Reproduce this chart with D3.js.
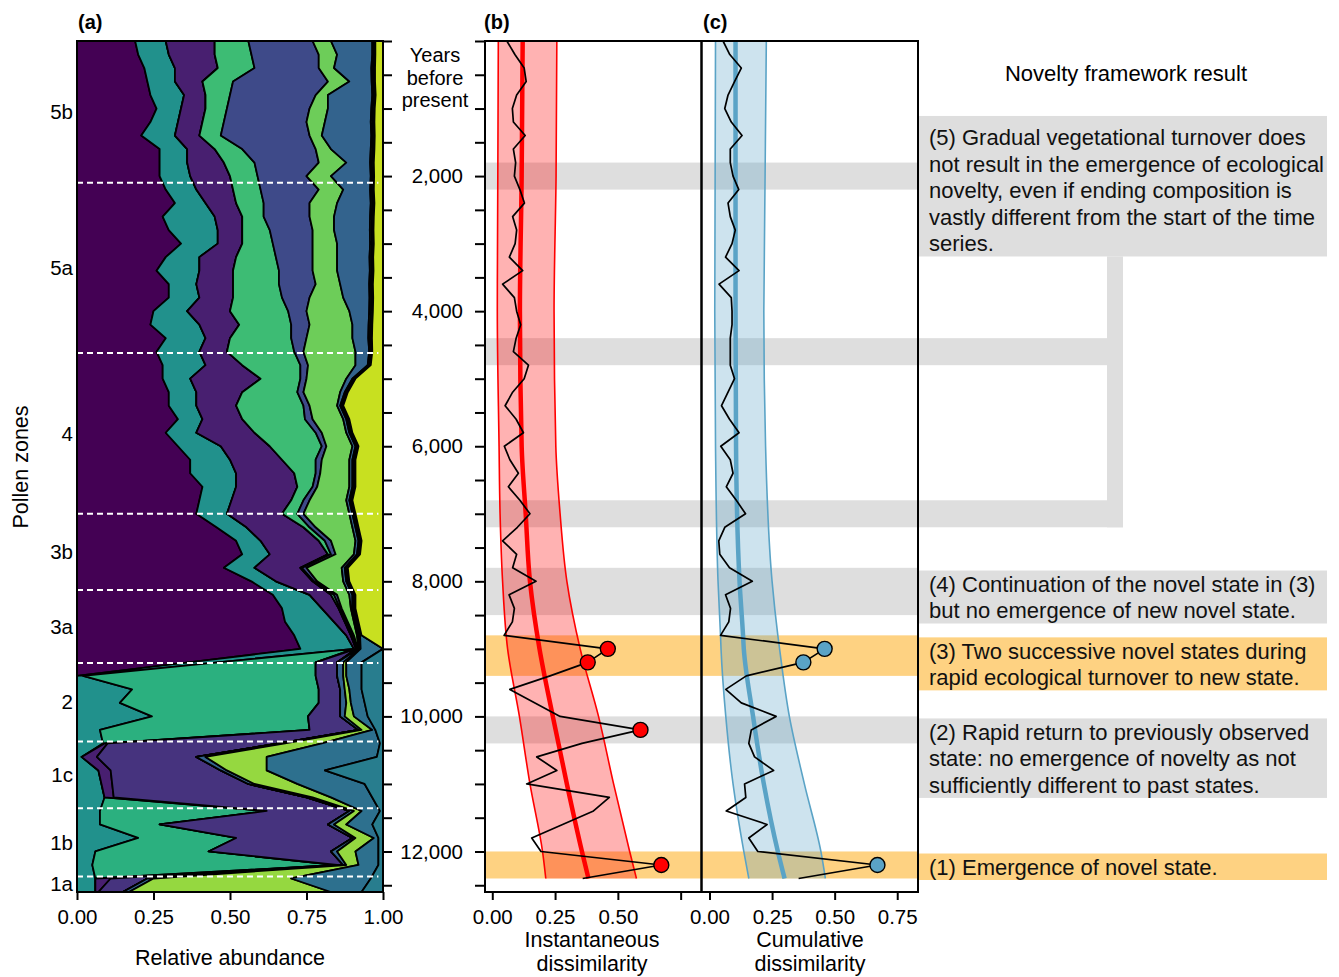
<!DOCTYPE html>
<html>
<head>
<meta charset="utf-8">
<script src="https://cdn.jsdelivr.net/npm/d3@7"></script>
<style>
body { margin: 0; background: #fff; }
text { font-family: "Liberation Sans", Arial, sans-serif; fill: #000; }
</style>
</head>
<body>
<div id="chart"></div>
<script>
// sample ages (years before present)
var sampleYears = [0, 200, 400, 600, 800, 1000, 1200, 1400, 1600, 1800, 2000, 2200, 2400, 2600, 2800, 3000,
  3200, 3400, 3600, 3800, 4000, 4200, 4400, 4600, 4800, 5000, 5200, 5400, 5600, 5800, 6000, 6200,
  6400, 6600, 6800, 7000, 7200, 7400, 7600, 7800, 8000, 8200, 8400, 8600, 8800, 9000, 9200, 9400,
  9600, 9800, 10000, 10200, 10400, 10600, 10800, 11000, 11200, 11400, 11600, 11800, 12000, 12200, 12400, 12600];

// relative abundance of each taxon, stacked left to right
var taxon1 = [.19,.20,.22,.23,.24,.26,.24,.21,.27,.27,.27,.29,.32,.28,.30,.34,.29,.26,.30,.30,.25,.24,.29,.26,
  .28,.28,.30,.30,.33,.29,.33,.37,.37,.41,.40,.39,.456,.52,.54,.48,.57,.64,.67,.68,.71,.73,
  .365,0,0,0,0,0,0,0,0,0,0,0,0,0,0,0,0,0];
var taxon2 = [.10,.10,.10,.09,.11,.08,.09,.11,.09,.09,.10,.10,.10,.17,.16,.12,.11,.14,.09,.10,.11,.16,.13,.14,
  .14,.09,.09,.09,.08,.10,.14,.13,.15,.11,.105,.10,.098,.08,.09,.10,.08,.12,.13,.16,.17,.175,
  .095,.02,.18,.14,.245,.075,.085,.015,.07,.08,.09,.075,.075,.20,.06,.05,.06,.06];
var taxon3 = [0,0,0,0,0,0,0,0,0,0,0,0,0,0,0,0,0,0,0,0,0,0,0,0,
  0,0,0,0,0,0,0,0,0,0,0,0,0,0,0,0,0,0,0,0,0,0,
  .32,.76,.61,.65,.51,.685,.005,0,0,0,0,.545,.195,.32,.37,.80,0,0];
var taxon4 = [.16,.15,.14,.09,.07,.08,.08,.08,.09,.12,.13,.12,.10,.09,.08,.08,.12,.11,.12,.11,.14,.13,.08,.09,
  .12,.23,.15,.13,.13,.19,.16,.17,.19,.20,.195,.18,.186,.19,.19,.15,.12,.07,.055,.035,.015,.007,
  0,0,0,0,0,0,.01,.05,.04,.035,.03,0,0,0,0,0,.05,.01];
var taxon5 = [0,0,0,0,0,0,0,0,0,0,0,0,0,0,0,0,0,0,0,0,0,0,0,0,
  0,0,0,0,0,0,0,0,0,0,0,0,0,0,0,0,0,0,0,0,0,0,
  .07,.07,.07,.07,.105,.16,.56,.325,.36,.445,.63,.27,.55,.38,.40,.02,.12,.08];
var taxon6 = [.11,.12,.12,.10,.08,.07,.07,.07,.09,.10,.09,.09,.09,.07,.09,.10,.13,.15,.15,.16,.19,.17,.20,.22,
  .19,.13,.18,.22,.205,.20,.17,.11,.07,.05,.04,.05,.02,.02,.01,.005,.005,.01,.005,.005,.005,.003,
  0,0,0,0,0,0,0,0,0,0,0,0,0,0,0,0,0,0];
var taxon7 = [.21,.22,.21,.31,.28,.27,.27,.29,.24,.21,.16,.19,.15,.15,.14,.13,.12,.11,.12,.09,.06,.06,.05,.03,
  .025,.02,.02,.02,.025,.02,.015,.02,.015,.015,.02,.02,.02,.02,.015,.015,.01,.01,.005,.005,.005,.003,
  0,0,0,0,0,0,0,0,0,0,0,0,0,0,0,0,0,0];
var taxon8 = [.06,.06,.05,.07,.04,.06,.06,.04,.05,.09,.08,.08,.09,.08,.07,.08,.08,.08,.08,.11,.14,.14,.15,.17,
  .155,.13,.12,.09,.10,.08,.085,.09,.095,.105,.12,.15,.12,.08,.06,.115,.085,.04,.03,.02,.01,.003,
  0,0,0,0,0,0,0,0,0,0,0,0,0,0,0,0,0,0];
var taxon9 = [.135,.115,.122,.073,.145,.142,.15,.162,.13,.078,.13,.088,.11,.118,.117,.108,.106,.107,.095,.086,.065,.053,.052,.045,
  .04,.02,.015,.01,.01,.01,.01,.01,.01,.01,.01,.01,.01,.01,.01,.01,.01,.01,.005,.005,.005,.003,
  .02,.02,.015,.02,.015,.01,.02,.03,.02,.02,.02,.015,.02,.01,.02,.01,.02,.02];
var taxon10 = [.005,.005,.006,.005,.005,.005,.006,.005,.006,.006,.005,.006,.006,.006,.006,.006,.006,.006,.006,.006,.006,.006,.006,.005,
  .005,.005,.005,.005,.005,.005,.005,.005,.005,.005,.005,.005,.005,.005,.005,.005,.005,.005,.005,.005,.005,.003,
  .01,.01,.015,.015,.03,.035,.12,.20,.13,.14,.06,.025,.04,.06,.06,.04,.45,.66];
var taxon11 = [.005,.005,.006,.006,.006,.006,.006,.006,.006,.006,.006,.006,.006,.006,.006,.006,.006,.006,.006,.006,.006,.006,.006,.005,
  .005,.005,.005,.005,.005,.005,.005,.005,.005,.005,.005,.005,.005,.005,.005,.005,.005,.005,.005,.005,.005,.073,
  .05,.05,.04,.045,.045,.01,.19,.36,.19,.22,.135,.06,.085,.015,.075,.065,.26,.10];
var taxon12 = [0,0,0,0,0,0,0,0,0,0,0,0,0,0,0,0,0,0,0,0,0,0,0,0,
  0,0,0,0,0,0,0,0,0,0,0,0,0,0,0,0,0,0,0,0,0,0,
  .07,.07,.07,.06,.05,.025,.01,.02,.19,.06,.035,.01,.035,.015,.015,.015,.04,.07];
var taxon13 = [.025,.025,.026,.026,.024,.027,.028,.027,.028,.03,.029,.03,.028,.03,.031,.03,.032,.031,.033,.032,.033,.035,.036,.035,
  .04,.09,.115,.13,.11,.10,.08,.09,.09,.09,.10,.09,.08,.07,.075,.115,.11,.09,.09,.08,.07,0,
  0,0,0,0,0,0,0,0,0,0,0,0,0,0,0,0,0,0];

// pollen zones
var zoneNames = ['5b', '5a', '4', '3b', '3a', '2', '1c', '1b', '1a'];
var zoneBreaks = [2100, 4620, 7000, 8130, 9210, 10370, 11360, 12370];

// dissimilarity (all samples except the oldest)
var instDissim = [.058,.09,.127,.135,.097,.08,.084,.131,.084,.093,.088,.11,.128,.081,.097,.091,.068,.121,.041,.088,.097,.113,
  .095,.084,.144,.127,.081,.051,.095,.124,.048,.07,.104,.064,.11,.15,.10,.041,.097,.081,.174,.067,.088,.08,.047,
  .46,.38,.23,.07,.17,.27,.59,.357,.177,.257,.137,.466,.403,.28,.157,.194,.673,.36];
var cumDissim = [.054,.081,.127,.10,.074,.061,.087,.13,.083,.083,.094,.117,.074,.083,.103,.09,.064,.118,.038,.087,.09,.09,
  .083,.083,.083,.10,.074,.048,.08,.118,.045,.083,.094,.067,.107,.144,.061,.037,.041,.08,.171,.064,.084,.077,.044,
  .46,.375,.147,.065,.127,.266,.167,.157,.18,.256,.14,.145,.067,.23,.157,.193,.671,.356];
var novelInst = [9000, 9200, 10200, 12200];
var novelCum = [9000, 9200, 12200];

// expected dissimilarity fits
var fitYearsInst = [0, 2000, 4000, 6000, 7000, 8000, 9000, 10000, 11000, 12000, 12400];
var fitInst = [.121, .117, .11, .117, .133, .15, .188, .241, .297, .357, .383];
var fitInstLo = [.024, .022, .02, .027, .031, .041, .061, .108, .15, .20, .213];
var fitInstHi = [.257, .254, .246, .253, .27, .297, .35, .423, .483, .547, .574];
var fitYearsCum = [0, 4000, 6000, 8000, 8800, 9000, 10000, 11000, 12000, 12400];
var fitCum = [.104, .104, .106, .12, .134, .137, .174, .217, .273, .30];
var fitCumLo = [.024, .021, .024, .034, .044, .046, .065, .094, .137, .157];
var fitCumHi = [.227, .217, .224, .25, .273, .28, .319, .379, .445, .463];

// highlighted periods
var bandFrom = [1800, 4400, 6800, 7800, 8800, 10000, 12000];
var bandTo = [2200, 4800, 7200, 8500, 9400, 10400, 12400];
var bandNovel = [false, false, false, false, true, false, true];

// framework notes
var noteLines = [
  ['(5) Gradual vegetational turnover does', 'not result in the emergence of ecological',
   'novelty, even if ending composition is', 'vastly different from the start of the time', 'series.'],
  ['(4) Continuation of the novel state in (3)', 'but no emergence of new novel state.'],
  ['(3) Two successive novel states during', 'rapid ecological turnover to new state.'],
  ['(2) Rapid return to previously observed', 'state: no emergence of novelty as not', 'sufficiently different to past states.'],
  ['(1) Emergence of novel state.']
];
var noteTop = [1110, 7840, 8830, 10030, 12030];
var noteNovel = [false, false, true, false, true];

var width = 1339;
var height = 977;
var grey = '#dedede';
var orange = '#fed282';
var red = '#ff0000';
var blue = '#5aa3c6';

var svg = d3.select('#chart')
            .append('svg')
            .attr('width', width)
            .attr('height', height);

var y = d3.scaleLinear().domain([0, 12600]).range([41, 892]);
var xA = d3.scaleLinear().domain([0, 1]).range([77, 383]);
var xB = d3.scaleLinear().domain([-0.029, 0.833]).range([485, 701.5]);
var xC = d3.scaleLinear().domain([-0.032, 0.833]).range([701.5, 918]);

// ---- panel (a): stacked pollen record
var taxa = [taxon1, taxon2, taxon3, taxon4, taxon5, taxon6, taxon7, taxon8, taxon9, taxon10, taxon11, taxon12, taxon13];
var taxaColors = ['#440154', '#21918c', '#2bb07f', '#481f70', '#46337e', '#3dbc74', '#3e4a89',
                  '#6dcd59', '#33638d', '#95d840', '#2d708e', '#287d8e', '#c8e020'];
var keys = taxa.map(function(d, i) { return 'taxon' + (i + 1); });
var rows = sampleYears.map(function(yr, i) {
  var r = { year: yr };
  taxa.forEach(function(t, j) { r[keys[j]] = t[i]; });
  return r;
});
var series = d3.stack().keys(keys)(rows);

svg.append('clipPath').attr('id', 'clipA')
   .append('rect').attr('x', 77).attr('y', 41).attr('width', 306).attr('height', 851);

var area = d3.area()
             .y(function(d) { return y(d.data.year); })
             .x0(function(d) { return xA(d[0]); })
             .x1(function(d) { return xA(d[1]); });

svg.append('g').attr('clip-path', 'url(#clipA)')
   .selectAll('path')
   .data(series)
   .enter()
   .append('path')
   .attr('d', area)
   .attr('fill', function(d, i) { return taxaColors[i]; })
   .attr('stroke', '#000')
   .attr('stroke-width', 1.8)
   .attr('stroke-linejoin', 'round');

svg.selectAll('.zoneLine')
   .data(zoneBreaks)
   .enter()
   .append('line')
   .attr('x1', xA(0)).attr('x2', xA(0.985))
   .attr('y1', function(d) { return y(d); })
   .attr('y2', function(d) { return y(d); })
   .attr('stroke', '#fff')
   .attr('stroke-width', 2)
   .attr('stroke-dasharray', '6,4');

var zoneEdges = [0].concat(zoneBreaks).concat([12600]);
svg.selectAll('.zoneLabel')
   .data(zoneNames)
   .enter()
   .append('text')
   .attr('x', 73)
   .attr('y', function(d, i) { return y((zoneEdges[i] + zoneEdges[i + 1]) / 2); })
   .attr('dy', '0.35em')
   .attr('text-anchor', 'end')
   .style('font-size', '20.5px')
   .text(function(d) { return d; });

// ---- bands and framework notes
var bands = bandFrom.map(function(d, i) { return { from: d, to: bandTo[i], novel: bandNovel[i] }; });
svg.selectAll('.band')
   .data(bands)
   .enter()
   .append('rect')
   .attr('x', 485)
   .attr('y', function(d) { return y(d.from); })
   .attr('width', function(d, i) { return (i === 1 || i === 2) ? 1123 - 485 : 918 - 485; })
   .attr('height', function(d) { return y(d.to) - y(d.from); })
   .attr('fill', function(d) { return d.novel ? orange : grey; });

var noteLineH = 26.5;
var notes = noteLines.map(function(lines, i) {
  var pad = lines.length > 3 ? 8 : 0;
  return { lines: lines, top: y(noteTop[i]), pad: pad,
           h: lines.length * noteLineH + pad, novel: noteNovel[i] };
});
// connector from note (5) down to its three bands
svg.append('rect')
   .attr('x', 1107).attr('width', 16)
   .attr('y', notes[0].top + notes[0].h)
   .attr('height', y(bandTo[2]) - notes[0].top - notes[0].h)
   .attr('fill', grey);

var noteG = svg.selectAll('.note')
               .data(notes)
               .enter()
               .append('g');
noteG.append('rect')
     .attr('x', 919).attr('width', 408)
     .attr('y', function(d) { return d.top; })
     .attr('height', function(d) { return d.h; })
     .attr('fill', function(d) { return d.novel ? orange : grey; });
noteG.append('text')
     .style('font-size', '22px')
     .style('fill', '#111')
     .each(function(d) {
       d3.select(this).selectAll('tspan')
         .data(d.lines)
         .enter()
         .append('tspan')
         .attr('x', 929)
         .attr('y', function(t, j) { return d.top + d.pad + 13.5 + j * noteLineH; })
         .attr('dy', '0.35em')
         .text(function(t) { return t; });
     });

svg.append('text')
   .attr('x', 1126).attr('y', 73).attr('dy', '0.35em')
   .attr('text-anchor', 'middle')
   .style('font-size', '22px')
   .text('Novelty framework result');

// ---- panels (b) and (c)
function drawDissim(x, values, fitYears, fit, lo, hi, novel, col) {
  var pts = values.map(function(v, i) { return { year: sampleYears[i], v: v }; });
  var fitPts = fitYears.map(function(yr, i) { return { year: yr, m: fit[i], lo: lo[i], hi: hi[i] }; });

  var ribbon = d3.area()
                 .curve(d3.curveMonotoneY)
                 .y(function(d) { return y(d.year); })
                 .x0(function(d) { return x(d.lo); })
                 .x1(function(d) { return x(d.hi); });
  svg.append('path').datum(fitPts)
     .attr('d', ribbon)
     .attr('fill', col).attr('fill-opacity', 0.3)
     .attr('stroke', 'none');

  ['lo', 'hi'].forEach(function(k) {
    svg.append('path').datum(fitPts)
       .attr('d', d3.line().curve(d3.curveMonotoneY)
                    .x(function(d) { return x(d[k]); })
                    .y(function(d) { return y(d.year); }))
       .attr('fill', 'none').attr('stroke', col).attr('stroke-width', 1.6);
  });
  svg.append('path').datum(fitPts)
     .attr('d', d3.line().curve(d3.curveMonotoneY)
                  .x(function(d) { return x(d.m); })
                  .y(function(d) { return y(d.year); }))
     .attr('fill', 'none').attr('stroke', col).attr('stroke-width', 4.5);

  svg.append('path').datum(pts)
     .attr('d', d3.line()
                  .x(function(d) { return x(d.v); })
                  .y(function(d) { return y(d.year); }))
     .attr('fill', 'none').attr('stroke', '#000').attr('stroke-width', 1.7)
     .attr('stroke-linejoin', 'round');

  svg.selectAll(null)
     .data(pts.filter(function(d) { return novel.indexOf(d.year) >= 0; }))
     .enter()
     .append('circle')
     .attr('cx', function(d) { return x(d.v); })
     .attr('cy', function(d) { return y(d.year); })
     .attr('r', 7.5)
     .attr('fill', col)
     .attr('stroke', '#000')
     .attr('stroke-width', 1.4);
}
drawDissim(xB, instDissim, fitYearsInst, fitInst, fitInstLo, fitInstHi, novelInst, red);
drawDissim(xC, cumDissim, fitYearsCum, fitCum, fitCumLo, fitCumHi, novelCum, blue);

// ---- frames
[[77, 383], [485, 701.5], [701.5, 918]].forEach(function(p) {
  svg.append('rect')
     .attr('x', p[0]).attr('y', 41)
     .attr('width', p[1] - p[0]).attr('height', 851)
     .attr('fill', 'none').attr('stroke', '#000').attr('stroke-width', 2);
});

// ---- axes
var yTicks = d3.range(0, 12501, 500);
function styleAxis(g) {
  g.select('.domain').remove();
  g.selectAll('line').attr('stroke', '#000').attr('stroke-width', 2);
  g.selectAll('text').style('font-size', '20.5px')
   .style('font-family', '"Liberation Sans", Arial, sans-serif').attr('fill', '#000');
}
svg.append('g').attr('transform', 'translate(383,0)')
   .call(d3.axisRight(y).tickValues(yTicks).tickSize(9).tickFormat(''))
   .call(styleAxis);
svg.append('g').attr('transform', 'translate(485,0)')
   .call(d3.axisLeft(y).tickValues(yTicks).tickSize(10).tickPadding(12)
     .tickFormat(function(d) { return (d > 0 && d % 2000 === 0) ? d3.format(',')(d) : ''; }))
   .call(styleAxis);

svg.append('g').attr('transform', 'translate(0,892)')
   .call(d3.axisBottom(xA).tickValues([0, .25, .5, .75, 1]).tickSize(8).tickPadding(9)
     .tickFormat(d3.format('.2f')))
   .call(styleAxis);
svg.append('g').attr('transform', 'translate(0,892)')
   .call(d3.axisBottom(xB).tickValues([0, .25, .5, .75]).tickSize(8).tickPadding(9)
     .tickFormat(function(d) { return d < 0.7 ? d3.format('.2f')(d) : ''; }))
   .call(styleAxis);
svg.append('g').attr('transform', 'translate(0,892)')
   .call(d3.axisBottom(xC).tickValues([0, .25, .5, .75]).tickSize(8).tickPadding(9)
     .tickFormat(d3.format('.2f')))
   .call(styleAxis);

// ---- titles
function label(x, yy, lines, size, anchor, weight, lineH) {
  var t = svg.append('text')
             .attr('text-anchor', anchor || 'middle')
             .style('font-size', size)
             .style('font-weight', weight || 'normal');
  lines.forEach(function(s, i) {
    t.append('tspan').attr('x', x).attr('y', yy + i * (lineH || 0)).attr('dy', '0.35em').text(s);
  });
  return t;
}
label(78, 22, ['(a)'], '20px', 'start', 'bold');
label(484, 22, ['(b)'], '20px', 'start', 'bold');
label(703, 22, ['(c)'], '20px', 'start', 'bold');
label(435, 55, ['Years', 'before', 'present'], '20px', 'middle', 'normal', 22.5);
label(230, 957, ['Relative abundance'], '21.5px');
label(592, 939, ['Instantaneous', 'dissimilarity'], '21.5px', 'middle', 'normal', 24);
label(810, 939, ['Cumulative', 'dissimilarity'], '21.5px', 'middle', 'normal', 24);
svg.append('text')
   .attr('transform', 'translate(20,467) rotate(-90)')
   .attr('dy', '0.35em')
   .attr('text-anchor', 'middle')
   .style('font-size', '21.5px')
   .text('Pollen zones');
</script>
</body>
</html>
